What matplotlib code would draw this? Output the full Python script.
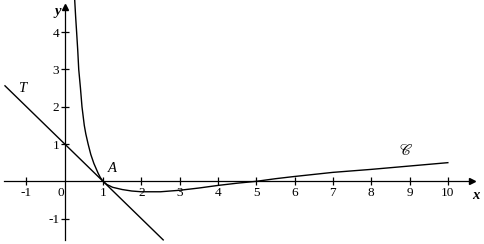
import numpy as np
import matplotlib.pyplot as plt

# curve C, points
c_x = [0.26, 0.285, 0.31, 0.34, 0.365, 0.41, 0.45, 0.51, 0.55, 0.61, 0.68, 0.76, 0.87, 0.93, 1.0,
       1.1, 1.25, 1.5, 1.75, 2.0, 2.5, 3.0, 3.5, 4.0, 4.5, 5.0, 5.5, 6.0, 7.0, 8.0, 9.0, 10.0]
c_y = [4.86, 4.4, 4.0, 3.5, 3.0, 2.5, 2.0, 1.5, 1.27, 1.0, 0.72, 0.48, 0.22, 0.1, 0.0,
       -0.085, -0.16, -0.22, -0.26, -0.28, -0.28, -0.24, -0.18, -0.11, -0.05, 0.0, 0.07, 0.13, 0.24, 0.32, 0.41, 0.5]

# tangent T at A
t_x = [-1.56, 2.57]
t_y = [2.56, -1.57]

x_ticks = [-1, 1, 2, 3, 4, 5, 6, 7, 8, 9, 10]
y_ticks = [-1, 1, 2, 3, 4]

plt.rcParams['font.family'] = ['Liberation Serif', 'DejaVu Serif']

fig = plt.figure(figsize=(4.85, 2.44), dpi=100)
ax = fig.add_axes([0, 0, 1, 1])
ax.set_xlim(-1.69, 10.97)
ax.set_ylim(-1.68, 4.86)

for s in ['top', 'right']:
    ax.spines[s].set_visible(False)
ax.spines['left'].set_position(('data', 0))
ax.spines['bottom'].set_position(('data', 0))
ax.spines['bottom'].set_bounds(-1.58, 10.6)
ax.spines['left'].set_bounds(-1.57, 4.65)
ax.spines['left'].set_linewidth(0.9)
ax.spines['bottom'].set_linewidth(0.9)

# arrow heads
ax.plot(10.62, 0, marker='>', color='black', markersize=5, clip_on=False)
ax.plot(0, 4.68, marker='^', color='black', markersize=5, clip_on=False)

ax.set_xticks(x_ticks)
ax.set_xticklabels([str(v) for v in x_ticks])
ax.set_yticks(y_ticks)
ax.set_yticklabels([str(v) for v in y_ticks])
ax.tick_params(direction='inout', length=6, width=0.9, labelsize=9.5, pad=1)
ax.text(-0.1, -0.14, '0', fontsize=9.5, ha='center', va='top')

ax.plot(c_x, c_y, color='black', lw=1.0)
ax.plot(t_x, t_y, color='black', lw=1.0)

ax.text(-1.12, 2.5, 'T', fontsize=10.5, style='italic', ha='center', va='center')
ax.text(1.25, 0.35, 'A', fontsize=10.5, style='italic', ha='center', va='center')
ax.text(8.9, 0.82, r'$\mathscr{C}$', fontsize=11, math_fontfamily='stix', ha='center', va='center')
ax.text(10.72, -0.38, 'x', fontsize=10.5, style='italic', weight='bold', ha='center', va='center')
ax.text(-0.18, 4.55, 'y', fontsize=10.5, style='italic', weight='bold', ha='center', va='center')

fig.savefig('out.png', dpi=100)
